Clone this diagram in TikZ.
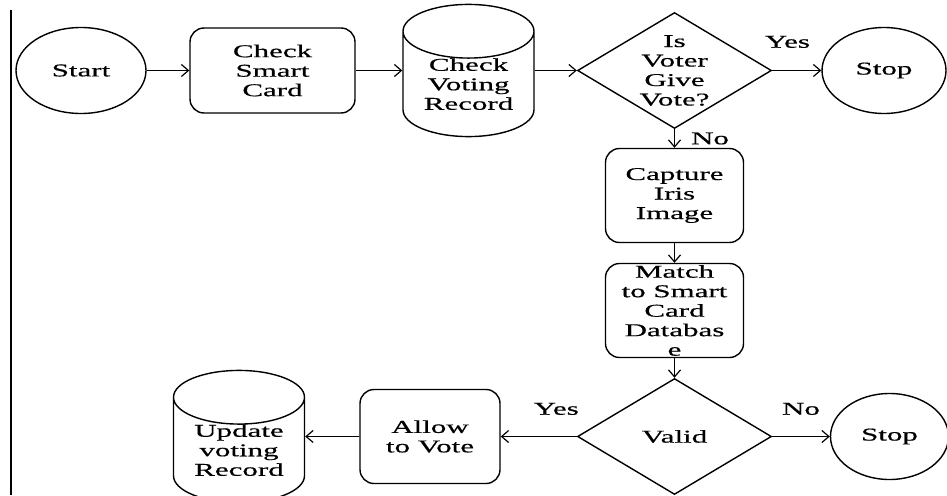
\documentclass[tikz,border=0pt]{standalone}
\usepackage{fontspec}
\setmainfont{Liberation Serif}[FakeStretch=1.72, FakeBold=0.5]
\usetikzlibrary{positioning, shapes.geometric, arrows.meta}
\tikzstyle{terminal} = [ellipse, draw, line width=1.4pt, inner sep=0pt,
    minimum width=126pt, minimum height=86pt]
\tikzstyle{block} = [rectangle, draw, line width=1.4pt, rounded corners=14pt,
    inner sep=0pt, align=center, minimum width=138pt, minimum height=94pt]
\tikzstyle{database} = [cylinder, shape border rotate=90, aspect=0.6, draw,
    line width=1.4pt, inner sep=0pt, align=center, text height=51pt, text depth=-22pt,
    minimum width=131pt, minimum height=124pt]
\tikzstyle{decision} = [diamond, aspect=1.67, draw, line width=1.4pt, inner sep=-5pt,
    align=center, minimum width=194pt, minimum height=116pt]
\tikzstyle{line} = [draw, line width=1.2pt, -{Straight Barb[length=7pt, width=12pt]}]
\tikzstyle{edgelabel} = [inner sep=0pt]

\begin{document}
\begin{tikzpicture}[x=1pt, y=1pt, node distance=190pt, font=\fontsize{18}{19.5}\selectfont]
  \useasboundingbox (0,0) rectangle (947,-495);
  % page rule on the left
  \draw [line width=1.6pt] (11,-10) -- (11,-495);
  % Place nodes
  \node [terminal, minimum width=130pt] (start) at (81,-70.5) {Start};
  \node [block, right of=start, node distance=191.5pt, minimum width=165pt, minimum height=85pt] (card) {Check\\Smart\\Card};
  \node [database, right of=card, node distance=196pt, anchor=shape center] (record) {Check\\Voting\\Record};
  \node [decision, right of=card, node distance=402pt] (given) {Is\\Voter\\Give\\Vote?};
  \node [terminal, right of=given, node distance=209.5pt, minimum width=124pt] (stopa) {Stop};
  \node [block, below of=given, node distance=125pt] (iris) {Capture\\Iris\\Image};
  \node [block, below of=iris, node distance=115pt] (match) {Match\\to Smart\\Card\\Databas\\e};
  \node [decision, below of=match, node distance=126pt] (valid) {Valid};
  \node [terminal, right of=valid, node distance=215pt, minimum width=118pt] (stopb) {Stop};
  \node [block, left of=valid, node distance=244.5pt, minimum width=140pt] (allow) {Allow\\to Vote};
  \node [database, left of=allow, node distance=191pt, anchor=shape center] (update) {Update\\voting\\Record};
  % Draw edges
  \path [line] (start) -- (card);
  \path [line] (card) -- (card -| record.west);
  \path [line] (given -| record.east) -- (given);
  \path [line] (given) -- node [pos=0.31, above=22pt, edgelabel] {Yes} (stopa);
  \path [line] (given) -- node [midway, right=16pt, edgelabel] {No} (iris);
  \path [line] (iris) -- (match);
  \path [line] (match) -- (valid);
  \path [line] (valid) -- node [midway, above=21pt, edgelabel] {No} (stopb);
  \path [line] (valid) -- node [pos=0.27, above=21pt, edgelabel] {Yes} (allow);
  \path [line] (allow) -- (allow -| update.east);
\end{tikzpicture}
\end{document}
